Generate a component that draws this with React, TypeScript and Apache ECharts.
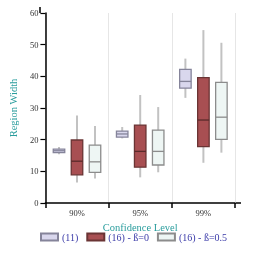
import React, { useEffect, useRef } from "react";
import * as echarts from "echarts";

const categories = ["90%", "95%", "99%"];
const seriesNames = ["(11)", "(16) - ß=0", "(16) - ß=0.5"];
// [low whisker, Q1, median, Q3, high whisker] per category
const s11 = [
  [15.4, 15.9, 16.5, 17.0, 17.7],
  [20.4, 20.8, 21.8, 22.7, 24.0],
  [33.2, 36.3, 38.4, 42.2, 45.6],
];
const s16b0 = [
  [6.5, 8.9, 13.2, 19.9, 27.6],
  [8.1, 11.3, 16.3, 24.6, 34.1],
  [12.7, 17.8, 26.2, 39.6, 54.6],
];
const s16b05 = [
  [7.7, 9.7, 13.0, 18.3, 24.3],
  [9.7, 12.0, 16.3, 23.0, 30.3],
  [15.9, 20.1, 27.1, 38.1, 50.6],
];
const yTicks = [0, 10, 20, 30, 40, 50, 60];

const fills = ["#d9d7ed", "#a84f52", "#eef6f4"];
const strokes = ["#85849a", "#6a3434", "#8c8c8c"];
const medians = ["#85849a", "#5a2a2a", "#8c8c8c"];
const offsets = [-18, 0, 18];

const FONT = "Liberation Serif";

export default function App() {
  const ref = useRef<HTMLDivElement>(null);
  useEffect(() => {
    if (!ref.current) return;
    const chart = echarts.init(ref.current, null, { renderer: "svg" });
    const all = [s11, s16b0, s16b05];
    const series = all.map((arr, si) => ({
      type: "custom",
      name: seriesNames[si],
      itemStyle: { color: fills[si], borderColor: strokes[si], borderWidth: 1.2 },
      encode: { x: 0, y: [1, 2, 3, 4, 5] },
      data: arr.map((v, i) => [i, ...v]),
      renderItem: (params: any, api: any) => {
        const ci = api.value(0);
        const lo = api.coord([ci, api.value(1)]);
        const q1 = api.coord([ci, api.value(2)]);
        const md = api.coord([ci, api.value(3)]);
        const q3 = api.coord([ci, api.value(4)]);
        const hi = api.coord([ci, api.value(5)]);
        const cx = lo[0] + offsets[si];
        const w = 11.5;
        return {
          type: "group",
          children: [
            {
              type: "line",
              shape: { x1: cx, y1: hi[1], x2: cx, y2: lo[1] },
              style: { stroke: "#c2c2c2", lineWidth: 2 },
            },
            {
              type: "rect",
              shape: { x: cx - w / 2, y: q3[1], width: w, height: q1[1] - q3[1] },
              style: { fill: fills[si], stroke: strokes[si], lineWidth: 1.3 },
            },
            {
              type: "line",
              shape: { x1: cx - w / 2, y1: md[1], x2: cx + w / 2, y2: md[1] },
              style: { stroke: medians[si], lineWidth: 1.3 },
            },
          ],
        };
      },
    }));
    chart.setOption({
      animation: false,
      textStyle: { fontFamily: FONT },
      grid: { left: 40, right: 20, top: 13, bottom: 52 },
      legend: {
        top: 232,
        left: 40,
        padding: 0,
        icon: "rect",
        itemWidth: 17,
        itemHeight: 7,
        itemGap: 8,
        textStyle: { fontFamily: FONT, fontSize: 10, color: "#3a3aa8", padding: [0, 0, 0, -1] },
        data: seriesNames,
      },
      xAxis: {
        type: "category",
        data: categories,
        name: "Confidence Level",
        nameLocation: "middle",
        nameGap: 19,
        nameTextStyle: { fontFamily: FONT, fontSize: 10.5, color: "#2a9d9d" },
        axisLine: { lineStyle: { color: "#000", width: 1.5 } },
        axisTick: { show: true, length: 5, lineStyle: { color: "#000", width: 1.5 } },
        axisLabel: { fontFamily: FONT, fontSize: 8.5, color: "#333", margin: 5 },
        splitLine: { show: true, lineStyle: { color: "#e6e6e6", width: 1 } },
      },
      yAxis: {
        type: "value",
        min: 0,
        max: 60,
        interval: 10,
        name: "Region Width",
        nameLocation: "middle",
        nameGap: 24,
        nameTextStyle: { fontFamily: FONT, fontSize: 10.5, color: "#2a9d9d" },
        axisLine: { show: true, lineStyle: { color: "#000", width: 1.5 } },
        axisTick: { show: true, length: 5, lineStyle: { color: "#000", width: 1.2 } },
        axisLabel: {
          fontFamily: FONT,
          fontSize: 8.5,
          color: "#333",
          margin: 7,
          formatter: (v: number) => (yTicks.includes(v) ? String(v) : ""),
        },
        splitLine: { show: false },
      },
      graphic: [
        { type: "line", shape: { x1: 40, y1: 7, x2: 40, y2: 13 }, style: { stroke: "#000", lineWidth: 1.5 } },
        { type: "line", shape: { x1: 235, y1: 203, x2: 241, y2: 203 }, style: { stroke: "#000", lineWidth: 1.5 } },
      ],
      series,
    });
    return () => chart.dispose();
  }, []);
  return <div ref={ref} style={{ width: 255, height: 255, position: "fixed", left: 0, top: 0 }} />;
}
